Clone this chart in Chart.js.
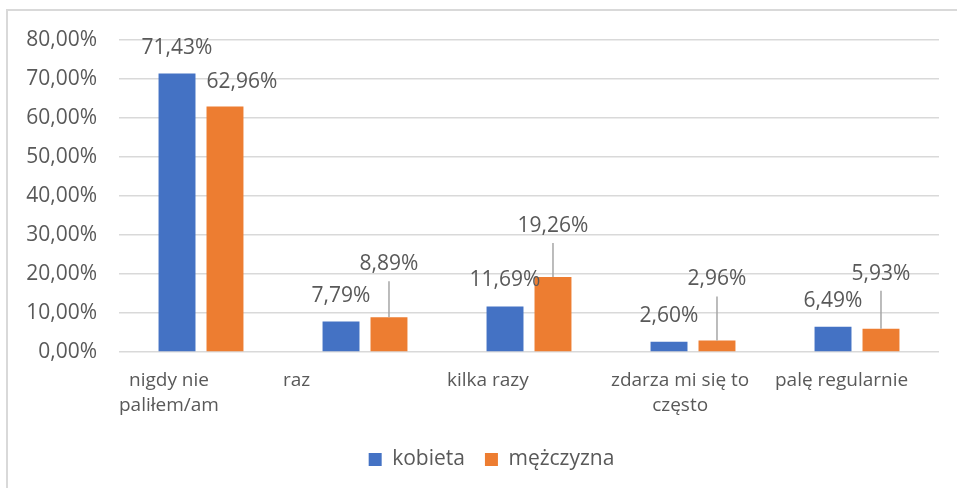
<!DOCTYPE html>
<html lang="pl">
<head>
<meta charset="utf-8">
<title>Palenie papierosów – kobiety i mężczyźni</title>
<script src="https://cdn.jsdelivr.net/npm/chart.js@4.4.1/dist/chart.umd.min.js"></script>
<style>
  html, body {
    margin: 0;
    padding: 0;
    background: #fff;
  }
  #wrap {
    position: relative;
    width: 957px;
    height: 488px;
  }
  #frame {
    position: absolute;
    left: 6px;
    top: 9px;
    right: 0;
    bottom: 0;
    border-left: 2px solid #d9d9d9;
    border-top: 2px solid #d9d9d9;
    pointer-events: none;
  }
</style>
</head>
<body>
<div id="wrap">
  <canvas id="barChart" width="957" height="488"></canvas>
  <div id="frame"></div>
</div>
<script>
const categories = [
  ["nigdy nie", "paliłem/am"],
  ["raz"],
  ["kilka razy"],
  ["zdarza mi się to", "często"],
  ["palę regularnie"],
];
const kobieta = [71.43, 7.79, 11.69, 2.6, 6.49];
const mezczyzna = [62.96, 8.89, 19.26, 2.96, 5.93];
const yTicks = [0, 10, 20, 30, 40, 50, 60, 70, 80];

// how far the value labels sit above the bar tops (px), and side shift
const blueLift = [25, 26, 26, 26, 26];
const orangeLift = [24, 53, 51, 61, 55];
const orangeShift = [17, 0, 0, 0, 0];

const textColor = "#595959";
const fontFamily = "'Open Sans', 'Liberation Sans', sans-serif";

function pct(v) {
  return v.toFixed(2).replace(".", ",") + "%";
}

// value labels above bars, with leader lines where the label was moved up
const valueLabels = {
  id: "valueLabels",
  afterDatasetsDraw(chart) {
    const ctx = chart.ctx;
    ctx.save();
    ctx.font = "21px " + fontFamily;
    ctx.fillStyle = textColor;
    ctx.textAlign = "center";
    ctx.textBaseline = "middle";
    chart.data.datasets.forEach((ds, di) => {
      const meta = chart.getDatasetMeta(di);
      meta.data.forEach((bar, i) => {
        const lift = di === 0 ? blueLift[i] : orangeLift[i];
        const shift = di === 0 ? 0 : orangeShift[i];
        const lx = bar.x + shift;
        const ly = bar.y - lift;
        if (lift > 35) {
          ctx.strokeStyle = "#a6a6a6";
          ctx.lineWidth = 1.5;
          ctx.beginPath();
          ctx.moveTo(bar.x, bar.y);
          ctx.lineTo(bar.x, ly + 17);
          ctx.stroke();
        }
        ctx.fillText(pct(ds.data[i]), lx, ly);
      });
    });
    ctx.restore();
  },
};

// category labels: each block starts at the left of its band, lines centred inside it
const categoryLabels = {
  id: "categoryLabels",
  afterLayout(chart) {
    // legend sits a little right of the canvas centre
    chart.legend.left += 22;
    chart.legend.right += 22;
  },
  afterDraw(chart) {
    const ctx = chart.ctx;
    const xScale = chart.scales.x;
    const band = (chart.chartArea.right - chart.chartArea.left) / categories.length;
    ctx.save();
    ctx.font = "19px " + fontFamily;
    ctx.fillStyle = textColor;
    ctx.textAlign = "center";
    ctx.textBaseline = "middle";
    categories.forEach((lines, i) => {
      const widest = Math.max(...lines.map((l) => ctx.measureText(l).width));
      const cx = xScale.getPixelForValue(i) - band / 2 + widest / 2;
      lines.forEach((line, j) => {
        ctx.fillText(line, cx, chart.chartArea.bottom + 29 + j * 25);
      });
    });
    ctx.restore();
  },
};

const canvas = document.getElementById("barChart");

new Chart(canvas, {
  type: "bar",
  data: {
    labels: categories.map((c) => c.join(" ")),
    datasets: [
      {
        label: "kobieta",
        data: kobieta,
        backgroundColor: "#4472C4",
        borderWidth: 0,
      },
      {
        label: "mężczyzna",
        data: mezczyzna,
        backgroundColor: "#ED7D31",
        borderWidth: 0,
      },
    ],
  },
  options: {
    responsive: false,
    animation: false,
    categoryPercentage: 0.585,
    barPercentage: 0.77,
    layout: {
      padding: { left: 0, right: 18, top: 40, bottom: 8 },
    },
    scales: {
      x: {
        grid: { display: false, drawTicks: false },
        border: { display: false },
        ticks: { display: false },
        afterFit(scale) {
          scale.height = 77;
        },
      },
      y: {
        min: 0,
        max: 80,
        afterBuildTicks(scale) {
          scale.ticks = yTicks.map((v) => ({ value: v }));
        },
        afterFit(scale) {
          scale.width = 119;
        },
        grid: {
          color: "#d9d9d9",
          lineWidth: 1.5,
          drawTicks: false,
        },
        border: { display: false },
        ticks: {
          padding: 22,
          color: textColor,
          font: { family: fontFamily, size: 21 },
          callback: (v) => pct(v),
        },
      },
    },
    plugins: {
      tooltip: { enabled: false },
      legend: {
        position: "bottom",
        labels: {
          color: textColor,
          font: { family: fontFamily, size: 21 },
          boxWidth: 13,
          boxHeight: 13,
          padding: 20,
        },
      },
    },
  },
  plugins: [valueLabels, categoryLabels],
});
</script>
</body>
</html>
